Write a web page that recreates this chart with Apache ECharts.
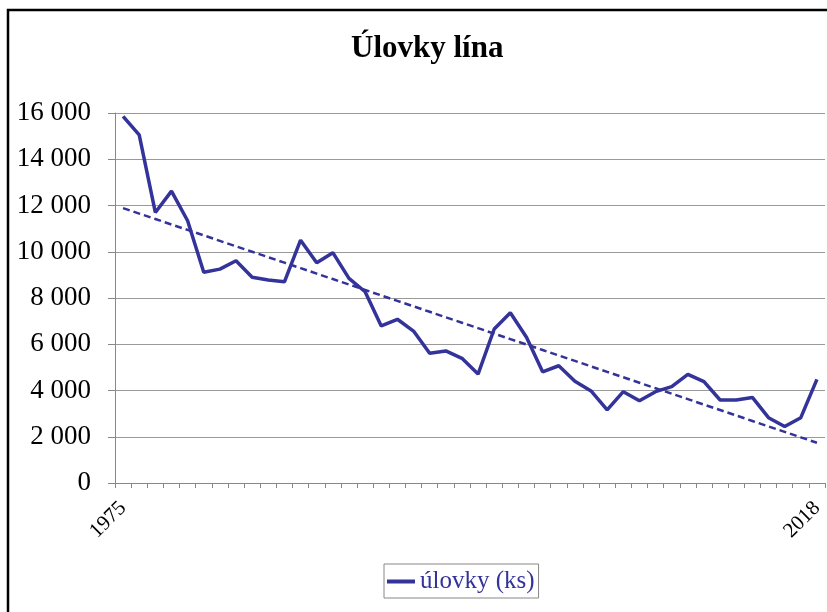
<!DOCTYPE html>
<html>
<head>
<meta charset="utf-8">
<script src="https://cdn.jsdelivr.net/npm/echarts@6/dist/echarts.min.js"></script>
<style>
  html, body { margin: 0; padding: 0; background: #fff; }
  #chart { width: 827px; height: 612px; }
</style>
</head>
<body>
<div id="chart"></div>
<script>
var years = [
  "1975", "1976", "1977", "1978", "1979", "1980", "1981", "1982", "1983", "1984",
  "1985", "1986", "1987", "1988", "1989", "1990", "1991", "1992", "1993", "1994",
  "1995", "1996", "1997", "1998", "1999", "2000", "2001", "2002", "2003", "2004",
  "2005", "2006", "2007", "2008", "2009", "2010", "2011", "2012", "2013", "2014",
  "2015", "2016", "2017", "2018"
];
// úlovky (ks)
var catches = [
  15850, 15050, 11700, 12620, 11340, 9110, 9250, 9610, 8900, 8780,
  8700, 10500, 9520, 9960, 8850, 8270, 6790, 7080, 6570, 5610,
  5710, 5390, 4710, 6660, 7360, 6300, 4810, 5070, 4400, 3980,
  3160, 3950, 3560, 3950, 4170, 4700, 4380, 3590, 3590, 3700,
  2825, 2440, 2825, 4480
];
var yTicks = [0, 2000, 4000, 6000, 8000, 10000, 12000, 14000, 16000];

// lineární trend (nejmenší čtverce), jako v Excelu
function linearTrend(vals) {
  var n = vals.length, sx = 0, sy = 0, sxy = 0, sxx = 0;
  vals.forEach(function (v, i) {
    sx += i; sy += v; sxy += i * v; sxx += i * i;
  });
  var b = (n * sxy - sx * sy) / (n * sxx - sx * sx);
  var a = (sy - b * sx) / n;
  return vals.map(function (v, i) { return +(a + b * i).toFixed(1); });
}

var lineColor = "#333399";
var serif = "'Liberation Serif', 'Times New Roman', serif";

var myChart = echarts.init(document.getElementById("chart"));
var option = {
  backgroundColor: "#fff",
  animation: false,
  title: {
    text: "Úlovky lína",
    left: 346,
    top: 28,
    textStyle: {
      fontFamily: serif,
      fontSize: 31,
      fontWeight: "bold",
      color: "#000"
    }
  },
  graphic: [
    {
      type: "rect",
      shape: { x: 8, y: 10, width: 900, height: 700 },
      style: { fill: "none", stroke: "#000", lineWidth: 2.5 },
      silent: true
    }
  ],
  grid: {
    left: 115,
    right: 2,
    top: 113,
    bottom: 129
  },
  legend: {
    data: ["úlovky (ks)"],
    left: 384,
    top: 564,
    icon: "rect",
    itemWidth: 28,
    itemHeight: 4,
    itemGap: 4,
    padding: [5, 4, 4, 3],
    borderColor: "#888",
    borderWidth: 1,
    textStyle: {
      fontFamily: serif,
      fontSize: 25,
      color: lineColor
    }
  },
  xAxis: {
    type: "category",
    boundaryGap: true,
    data: years,
    axisLine: { show: true, lineStyle: { color: "#888", width: 1 } },
    axisTick: { show: true, interval: 0, length: 5, lineStyle: { color: "#888" } },
    axisLabel: {
      interval: function (i) { return i === 0 || i === years.length - 1; },
      rotate: 45,
      margin: 22,
      fontFamily: serif,
      fontSize: 21,
      color: "#000"
    },
    splitLine: { show: false }
  },
  yAxis: {
    type: "value",
    min: yTicks[0],
    max: yTicks[yTicks.length - 1],
    interval: 2000,
    axisLine: { show: true, lineStyle: { color: "#888", width: 1 } },
    axisTick: { show: true, length: 7, lineStyle: { color: "#888" } },
    axisLabel: {
      margin: 24,
      fontFamily: serif,
      fontSize: 27,
      color: "#000",
      formatter: function (v) {
        return String(v).replace(/\B(?=(\d{3})+(?!\d))/g, " ");
      }
    },
    splitLine: { show: true, lineStyle: { color: "#999", width: 1 } }
  },
  series: [
    {
      name: "úlovky (ks)",
      type: "line",
      data: catches,
      showSymbol: false,
      symbol: "none",
      itemStyle: { color: lineColor },
      lineStyle: { color: lineColor, width: 3.5 },
      z: 3
    },
    {
      name: "trend",
      type: "line",
      data: linearTrend(catches),
      showSymbol: false,
      symbol: "none",
      itemStyle: { color: lineColor },
      lineStyle: { color: lineColor, width: 2.5, type: [7, 4] },
      z: 2
    }
  ]
};
myChart.setOption(option);
</script>
</body>
</html>
